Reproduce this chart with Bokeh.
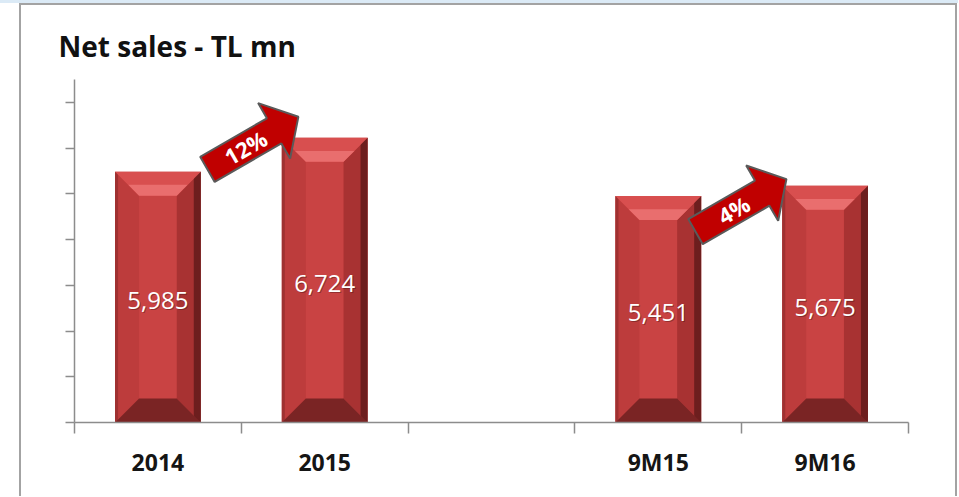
import math
from bokeh.plotting import figure
from bokeh.models import FixedTicker, Range1d, CustomJSTickFormatter, ColumnDataSource
from bokeh.core.properties import value
from bokeh.embed import file_html
from bokeh.resources import INLINE

# ---------------- data ----------------
title_text = "Net sales - TL mn"
axis_categories = ["2014", "2015", "", "9M15", "9M16"]
bar_categories = ["2014", "2015", "9M15", "9M16"]
net_sales = [5985, 6724, 5451, 5675]
growth_labels = ["12%", "4%"]
y_ticks = [500, 1500, 2500, 3500, 4500, 5500, 6500, 7500]

# ---------------- layout constants ----------------
Y0, Y1 = 500, 8000
FW, FH = 834, 343
PX_X = len(axis_categories) / FW      # data units per pixel (x)
PX_Y = (Y1 - Y0) / FH                 # data units per pixel (y)
BAR_HALF = 0.257
BEVEL = 24                            # px
AXIS_COL = "#8c8c8c"

p = figure(frame_width=FW, frame_height=FH,
           x_range=Range1d(0, len(axis_categories)), y_range=Range1d(Y0, Y1),
           output_backend="svg", toolbar_location=None,
           min_border_left=74, min_border_right=50, min_border_top=79, min_border_bottom=74,
           background_fill_color="white", border_fill_color="white", border_fill_alpha=0)
p.outline_line_color = None
p.grid.visible = False
# slide frame: light band on top, grey frame lines
p.styles = {
    "background": ("linear-gradient(#a3a3a3, #a3a3a3) 19px 3px / 2px 100% no-repeat, "
                   "linear-gradient(#a3a3a3, #a3a3a3) 19px 3px / 937px 2px no-repeat, "
                   "linear-gradient(#a3a3a3, #a3a3a3) 955px 3px / 2px 100% no-repeat, "
                   "linear-gradient(#dbeaf6, #dbeaf6) 0 0 / 100% 3px no-repeat, white"),
}

# title
p.title.text = title_text
p.title.align = "left"
p.title.offset = -16
p.title.standoff = 30
p.title.text_font = "Open Sans"
p.title.text_font_style = "bold"
p.title.text_font_size = "28px"
p.title.text_color = "#111111"

# x axis
p.xaxis.ticker = FixedTicker(ticks=[i + 0.5 for i, c in enumerate(axis_categories) if c],
                             minor_ticks=list(range(len(axis_categories) + 1)))
p.xaxis.formatter = CustomJSTickFormatter(args=dict(names=axis_categories),
                                          code="const n = names[Math.floor(tick)]; return n == null ? '' : n;")
p.xaxis.axis_line_color = AXIS_COL
p.xaxis.axis_line_width = 1.5
p.xaxis.major_tick_line_color = None
p.xaxis.major_tick_out = 0
p.xaxis.major_tick_in = 0
p.xaxis.minor_tick_line_color = AXIS_COL
p.xaxis.minor_tick_line_width = 1.5
p.xaxis.minor_tick_out = 11
p.xaxis.minor_tick_in = 0
p.xaxis.major_label_text_font = "Open Sans"
p.xaxis.major_label_text_font_style = "bold"
p.xaxis.major_label_text_font_size = "23px"
p.xaxis.major_label_text_color = "#151515"
p.xaxis.major_label_standoff = 12

# y axis
p.yaxis.ticker = FixedTicker(ticks=y_ticks, minor_ticks=[])
p.yaxis.formatter = CustomJSTickFormatter(code="return '';")
p.yaxis.axis_line_color = AXIS_COL
p.yaxis.axis_line_width = 1.5
p.yaxis.major_tick_line_color = AXIS_COL
p.yaxis.major_tick_line_width = 1.5
p.yaxis.major_tick_out = 9
p.yaxis.major_tick_in = 0
p.yaxis.minor_tick_line_color = None

# ---------------- bars ----------------
bx = [axis_categories.index(c) + 0.5 for c in bar_categories]
left = [x - BAR_HALF for x in bx]
right = [x + BAR_HALF for x in bx]
bottom = [Y0] * len(bx)
src = ColumnDataSource(dict(left=left, right=right, top=net_sales, bottom=bottom))
p.quad(left="left", right="right", top="top", bottom="bottom", source=src,
       fill_color="#c94343", line_color=None)

dx = BEVEL * PX_X
dy = BEVEL * PX_Y
top_xs, top_ys, lft_xs, lft_ys, rgt_xs, rgt_ys, bot_xs, bot_ys = [], [], [], [], [], [], [], []
hl_xs, hl_ys, edge_xs, edge_ys, ledge_xs, ledge_ys = [], [], [], [], [], []
for l, r, t in zip(left, right, net_sales):
    b = Y0
    top_xs.append([l, r, r - dx, l + dx]); top_ys.append([t, t, t - dy, t - dy])
    hl_xs.append([l + dx * 0.55, r - dx * 0.55, r - dx, l + dx]); hl_ys.append([t - dy * 0.55, t - dy * 0.55, t - dy, t - dy])
    lft_xs.append([l, l + dx, l + dx, l]); lft_ys.append([t, t - dy, b + dy, b])
    rgt_xs.append([r, r - dx, r - dx, r]); rgt_ys.append([t, t - dy, b + dy, b])
    bot_xs.append([l, l + dx, r - dx, r]); bot_ys.append([b, b + dy, b + dy, b])
    edge_xs.append([r - 7 * PX_X, r, r, r - 7 * PX_X]); edge_ys.append([t - 5 * PX_Y, t, b, b + 5 * PX_Y])
    ledge_xs.append([l, l + 3 * PX_X, l + 3 * PX_X, l]); ledge_ys.append([t, t - 2 * PX_Y, b + 2 * PX_Y, b])

p.patches(lft_xs, lft_ys, fill_color="#bd3c3c", line_color=None)
p.patches(rgt_xs, rgt_ys, fill_color="#a83232", line_color=None)
p.patches(edge_xs, edge_ys, fill_color="#5a1818", fill_alpha=0.75, line_color=None)
p.patches(ledge_xs, ledge_ys, fill_color="#8a2a2a", fill_alpha=0.6, line_color=None)
p.patches(top_xs, top_ys, fill_color="#d84f4f", line_color=None)
p.patches(hl_xs, hl_ys, fill_color="#ec7373", fill_alpha=0.85, line_color=None)
p.patches(bot_xs, bot_ys, fill_color="#7a2424", line_color=None)

# value labels
lab_y = [(Y0 + v) / 2 for v in net_sales]
lab_t = [f"{v:,}" for v in net_sales]
p.text(x=bx, y=lab_y, text=lab_t, text_align="center", text_baseline="middle",
       text_color="#3a1010", text_alpha=0.4, text_font=value("Open Sans"), text_font_size="24px",
       x_offset=1, y_offset=4)
p.text(x=bx, y=lab_y, text=lab_t, text_align="center", text_baseline="middle",
       text_color="white", text_font=value("Open Sans"), text_font_size="24px", y_offset=3)

# ---------------- growth arrows ----------------
arrow_tail_x = [0.797, 3.723]
arrow_tail_y = [6036, 4673]
ANG = math.radians(30)
LEN, SHAFT_HW, HEAD_HW, HEAD_LEN = 105, 14.5, 32, 28
ca, sa = math.cos(ANG), math.sin(ANG)
shape = [(0, -SHAFT_HW), (0, SHAFT_HW), (LEN - HEAD_LEN, SHAFT_HW), (LEN - HEAD_LEN, HEAD_HW),
         (LEN, 0), (LEN - HEAD_LEN, -HEAD_HW), (LEN - HEAD_LEN, -SHAFT_HW)]
ar_xs, ar_ys, tx, ty = [], [], [], []
for x0, y0 in zip(arrow_tail_x, arrow_tail_y):
    ar_xs.append([x0 + (a * ca - b * sa) * PX_X for a, b in shape])
    ar_ys.append([y0 + (a * sa + b * ca) * PX_Y for a, b in shape])
    tx.append(x0 + 44 * ca * PX_X)
    ty.append(y0 + 44 * sa * PX_Y)
p.patches(ar_xs, ar_ys, fill_color="#c00000", line_color="#5a5a5a", line_width=2)
p.text(x=tx, y=ty, text=growth_labels, angle=ANG, text_align="center", text_baseline="middle",
       text_color="white", text_font=value("Open Sans"), text_font_style="bold", text_font_size="22px")

open("out.html", "w").write(file_html(p, INLINE))
